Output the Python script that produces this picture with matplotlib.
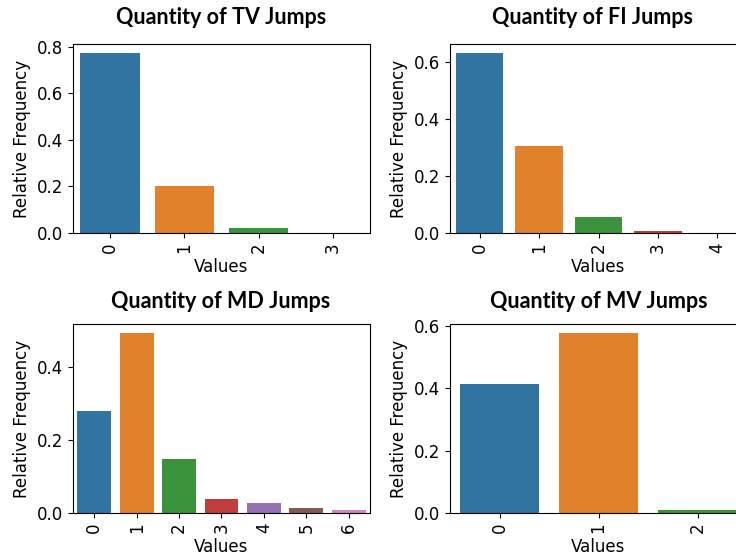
import matplotlib
matplotlib.use("Agg")
import matplotlib.pyplot as plt
import seaborn as sns

# relative frequency of jump counts
tv_values = [0, 1, 2, 3]
tv_freq = [0.774, 0.2035, 0.0215, 0.001]

fi_values = [0, 1, 2, 3, 4]
fi_freq = [0.632, 0.3065, 0.055, 0.006, 0.0005]

md_values = [0, 1, 2, 3, 4, 5, 6]
md_freq = [0.280, 0.494, 0.148, 0.039, 0.0265, 0.0128, 0.0073]

mv_values = [0, 1, 2]
mv_freq = [0.4145, 0.5765, 0.0107]

titles = ["Quantity of TV Jumps", "Quantity of FI Jumps",
          "Quantity of MD Jumps", "Quantity of MV Jumps"]

plt.rcParams["font.family"] = ["DejaVu Sans"]
plt.rcParams["font.size"] = 12

W, H = 736, 557
fig = plt.figure(figsize=(W / 100, H / 100), dpi=100)

def px_axes(left, top, width, height):
    return fig.add_axes([left / W, (H - top - height) / H, width / W, height / H])

panels = [
    (px_axes(73, 44, 297, 189), tv_values, tv_freq, titles[0], (221, 18)),
    (px_axes(450, 44, 297, 189), fi_values, fi_freq, titles[1], (592, 18)),
    (px_axes(73, 324, 297, 189), md_values, md_freq, titles[2], (221, 301)),
    (px_axes(450, 324, 297, 189), mv_values, mv_freq, titles[3], (599, 301)),
]

for ax, vals, freq, title, (tx, ty) in panels:
    sns.barplot(x=vals, y=freq, hue=vals, palette="tab10", legend=False, ax=ax)
    ax.set_xlabel("Values", labelpad=3)
    ax.set_ylabel("Relative Frequency")
    ax.tick_params(axis="x", labelrotation=90)
    fig.text(tx / W, 1 - ty / H, title, ha="center", va="center",
             fontsize=15.5, fontweight="bold", fontfamily="Lato")

fig.savefig("out.png", dpi=100)
